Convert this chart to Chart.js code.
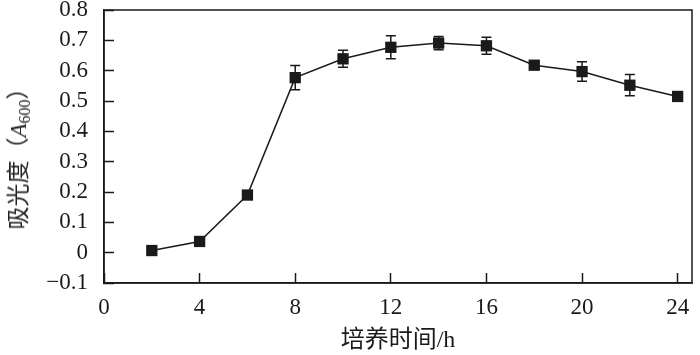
<!DOCTYPE html>
<html>
<head>
<meta charset="utf-8">
<script src="https://cdn.jsdelivr.net/npm/chart.js@4"></script>
<style>
  html, body { margin: 0; padding: 0; background: #fff; }
  #wrap { position: relative; width: 700px; height: 355px; }
  #yTitle {
    position: absolute; left: 16px; top: 153px;
    transform: translate(-50%, -50%) rotate(-90deg);
    white-space: nowrap; color: #222;
    font: 23px "Liberation Serif", "Noto Sans CJK SC", serif;
  }
  #yTitle sub { font-size: 16px; vertical-align: -4px; line-height: 0; }
</style>
</head>
<body>
<div id="wrap">
  <canvas id="growth" width="700" height="355"></canvas>
  <div id="yTitle">吸光度（<i>A</i><sub>600</sub>）</div>
</div>
<script>
// culture time (h) and absorbance readings
const hours = [2, 4, 6, 8, 10, 12, 14, 16, 18, 20, 22, 24];
const absorbance = [0.007, 0.037, 0.19, 0.577, 0.639, 0.677, 0.691, 0.682, 0.618, 0.597, 0.552, 0.515];
const errors = [0, 0, 0, 0.04, 0.028, 0.038, 0.022, 0.028, 0.01, 0.032, 0.035, 0];
const yTicks = [-0.1, 0, 0.1, 0.2, 0.3, 0.4, 0.5, 0.6, 0.7, 0.8];
const xTicks = [0, 4, 8, 12, 16, 20, 24];

const ink = '#1a1a1a';
const tickFont = { family: '"Liberation Serif", serif', size: 23 };

// error bars drawn under the markers
const errorBars = {
    id: 'errorBars',
    beforeDatasetsDraw(chart) {
        const ctx = chart.ctx;
        const xs = chart.scales.x, ys = chart.scales.y;
        ctx.save();
        ctx.strokeStyle = ink;
        ctx.lineWidth = 1.5;
        hours.forEach((h, i) => {
            if (!errors[i]) return;
            const x = xs.getPixelForValue(h);
            const top = ys.getPixelForValue(absorbance[i] + errors[i]);
            const bot = ys.getPixelForValue(absorbance[i] - errors[i]);
            ctx.beginPath();
            ctx.moveTo(x, top); ctx.lineTo(x, bot);
            ctx.moveTo(x - 5, top); ctx.lineTo(x + 5, top);
            ctx.moveTo(x - 5, bot); ctx.lineTo(x + 5, bot);
            ctx.stroke();
        });
        ctx.restore();
    }
};

// closes the frame on the top and right
const frame = {
    id: 'frame',
    afterDraw(chart) {
        const { left, right, top, bottom } = chart.chartArea;
        const ctx = chart.ctx;
        ctx.save();
        ctx.strokeStyle = ink;
        ctx.lineWidth = 1.5;
        ctx.strokeRect(left, top, right - left, bottom - top);
        ctx.restore();
    }
};

new Chart(document.getElementById('growth'), {
    type: 'line',
    data: {
        datasets: [{
            data: hours.map((h, i) => ({ x: h, y: absorbance[i] })),
            borderColor: ink,
            borderWidth: 1.5,
            pointStyle: 'rect',
            pointRadius: 8,
            pointBorderWidth: 0,
            pointBackgroundColor: ink,
            tension: 0
        }]
    },
    options: {
        responsive: false,
        animation: false,
        layout: { padding: { top: 10, right: 1, left: 0, bottom: 0 } },
        plugins: { legend: { display: false }, tooltip: { enabled: false } },
        scales: {
            x: {
                type: 'linear',
                min: 0,
                max: 24.6,
                afterBuildTicks: s => { s.ticks = xTicks.map(v => ({ value: v })); },
                afterFit: s => { s.height = 72; s.paddingLeft = 0; s.paddingRight = 0; },
                ticks: { font: tickFont, color: ink, padding: 21, maxRotation: 0, autoSkip: false },
                grid: { drawOnChartArea: false, tickLength: -10, color: ink, tickWidth: 1.5 },
                border: { color: ink, width: 1.5 },
                title: {
                    display: true,
                    text: '培养时间/h',
                    color: ink,
                    font: { family: '"Liberation Serif", "Noto Sans CJK SC", serif', size: 24 },
                    padding: { top: 0, bottom: 0 }
                }
            },
            y: {
                min: -0.1,
                max: 0.8,
                afterBuildTicks: s => { s.ticks = yTicks.map(v => ({ value: v })); },
                afterFit: s => { s.width = 104; s.paddingTop = 0; s.paddingBottom = 0; },
                ticks: {
                    font: tickFont, color: ink, padding: 26, autoSkip: false,
                    callback: v => v < 0 ? '\u2212' + Math.abs(v).toFixed(1) : (v === 0 ? '0' : v.toFixed(1))
                },
                grid: { drawOnChartArea: false, tickLength: -10, color: ink, tickWidth: 1.5 },
                border: { color: ink, width: 1.5 }
            }
        }
    },
    plugins: [errorBars, frame]
});
</script>
</body>
</html>
